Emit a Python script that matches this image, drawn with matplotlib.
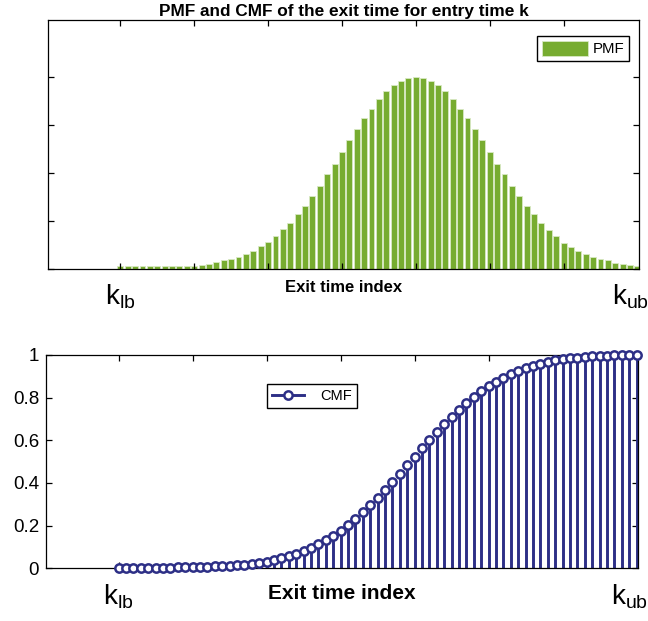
import numpy as np
import matplotlib
matplotlib.use("Agg")
from matplotlib import pyplot as plt
from matplotlib.lines import Line2D
from matplotlib.legend_handler import HandlerLine2D

plt.rcParams["font.family"] = ["Liberation Sans", "DejaVu Sans"]
plt.rcParams["mathtext.fontset"] = "custom"
plt.rcParams["mathtext.rm"] = "Liberation Sans"
plt.rcParams["mathtext.it"] = "Liberation Sans"

# exit time index, k_lb = 0 ... k_ub = 70
exit_index = np.arange(71)

# PMF (in thousandths)
pmf_permille = [
    0.45, 0.45, 0.45, 0.45, 0.45, 0.45, 0.45, 0.45, 0.6, 0.6,
    0.6, 0.8, 1.0, 1.3, 1.7, 2.0, 2.4, 3.1, 3.7, 4.6,
    5.5, 6.8, 8.2, 9.5, 11.3, 13.0, 15.1, 17.3, 19.6, 21.8,
    24.3, 26.8, 29.0, 31.3, 33.3, 35.3, 36.9, 38.2, 39.1, 39.8,
    40.0, 39.8, 39.1, 38.2, 36.9, 35.3, 33.3, 31.3, 29.0, 26.8,
    24.3, 21.8, 19.6, 17.3, 15.1, 13.1, 11.3, 9.5, 8.1, 6.8,
    5.4, 4.5, 3.7, 3.1, 2.3, 1.9, 1.7, 1.2, 1.0, 0.8,
    0.6,
]
pmf = np.array(pmf_permille) / 1000.0
cmf = np.cumsum(pmf) / np.sum(pmf)

tick_labels = [r"$\mathrm{k}_{\mathrm{lb}}$", r"$\mathrm{k}_{\mathrm{ub}}$"]
label_pos = [0, 69]

GREEN = "#77ac30"
NAVY = "#2d2f86"


class EndMarkerHandler(HandlerLine2D):
    # MATLAB style legend: line with the marker at its right end
    def get_xdata(self, legend, xdescent, ydescent, width, height, fontsize):
        xdata = np.array([-xdescent, -xdescent + width])
        return xdata, np.array([-xdescent + width])


def style_axes(ax):
    for s in ax.spines.values():
        s.set_linewidth(0.9)
    ax.tick_params(which="major", direction="in", top=True, right=True,
                   length=4, width=0.9)
    ax.set_xlim(-9.8, 70.2)
    ax.xaxis.remove_overlapping_locs = False
    ax.set_xticks(np.arange(0, 61, 10))
    ax.set_xticklabels([])
    ax.set_xticks(label_pos, minor=True)
    ax.set_xticklabels(tick_labels, minor=True, fontsize=20)
    ax.tick_params(axis="x", which="minor", length=0, pad=10)


fig = plt.figure(figsize=(6.48, 6.21), dpi=100)

# top: PMF
ax1 = fig.add_axes([0.074, 0.5676, 0.912, 0.4002])
ax1.bar(exit_index, pmf, width=0.8, color=GREEN, edgecolor="#d9e9c4",
        linewidth=0.6, label="PMF")
style_axes(ax1)
ax1.set_ylim(0, 0.0518)
ax1.set_yticks([0, 0.01, 0.02, 0.03, 0.04])
ax1.set_yticklabels([])
ax1.set_title("PMF and CMF of the exit time for entry time k",
              fontsize=12.4, fontweight="bold", pad=3)
ax1.set_xlabel("Exit time index", fontsize=12, fontweight="bold")
ax1.xaxis.set_label_coords(0.5, -0.075)
ax1.xaxis.label.set_va("center")
ax1.legend(loc="upper right", bbox_to_anchor=(0.983, 0.935), fontsize=10.8,
           handlelength=3.1, handleheight=1.15, fancybox=False,
           edgecolor="black", framealpha=1, borderpad=0.3,
           handletextpad=0.3, borderaxespad=0)

# bottom: CMF
ax2 = fig.add_axes([0.071, 0.0849, 0.9136, 0.3435])
markerline, stemlines, baseline = ax2.stem(exit_index, cmf)
stemlines.set_color(NAVY)
stemlines.set_linewidth(2.1)
markerline.set_marker("o")
markerline.set_markersize(6)
markerline.set_markerfacecolor("white")
markerline.set_markeredgecolor(NAVY)
markerline.set_markeredgewidth(1.8)
markerline.set_clip_on(False)
markerline.set_zorder(4)
baseline.set_visible(False)
style_axes(ax2)
ax2.set_ylim(0, 1)
ax2.set_yticks([0, 0.2, 0.4, 0.6, 0.8, 1])
ax2.set_yticklabels(["0", "0.2", "0.4", "0.6", "0.8", "1"], fontsize=13.5)
ax2.tick_params(axis="y", pad=5)
ax2.set_xlabel("Exit time index", fontsize=15, fontweight="bold")
ax2.xaxis.set_label_coords(0.5, -0.116)
ax2.xaxis.label.set_va("center")

proxy = Line2D([], [], color=NAVY, linewidth=2.1, marker="o", markersize=6,
               markerfacecolor="white", markeredgecolor=NAVY,
               markeredgewidth=1.8)
ax2.legend([proxy], ["CMF"], handler_map={proxy: EndMarkerHandler()},
           loc="upper left", bbox_to_anchor=(0.373, 0.864), fontsize=10.5,
           handlelength=2.2, fancybox=False, edgecolor="black",
           framealpha=1, borderpad=0.35, handletextpad=1.1, borderaxespad=0)

plt.savefig("out.png", dpi=100)
plt.close()
